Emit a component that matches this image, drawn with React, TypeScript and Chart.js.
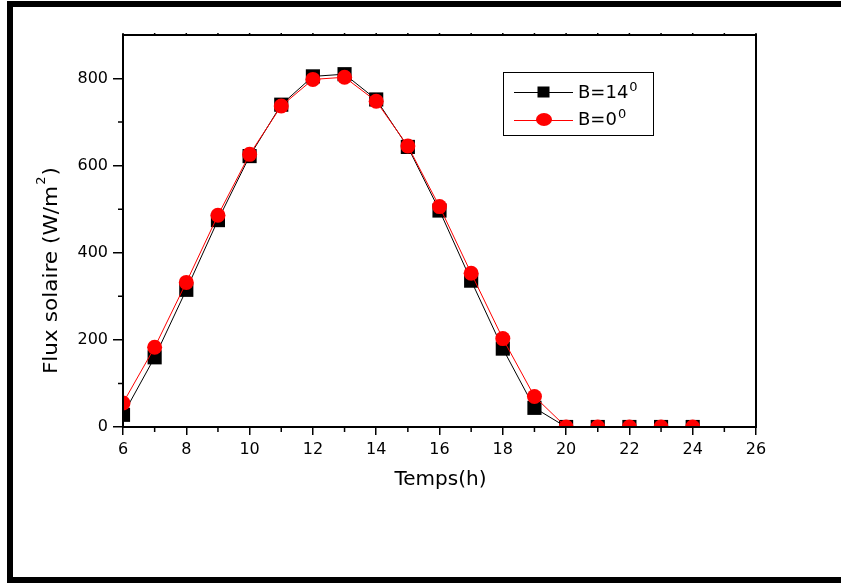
import React, { useEffect, useRef } from 'react';
import { Chart, registerables } from 'chart.js';

Chart.register(...registerables);

const hours = [6, 7, 8, 9, 10, 11, 12, 13, 14, 15, 16, 17, 18, 19, 20, 21, 22, 23, 24];
const fluxB14 = [28, 160, 315, 475, 622, 740, 805, 810, 752, 643, 497, 336, 180, 44, 0, 0, 0, 0, 0];
const fluxB0 = [55, 183, 332, 486, 626, 737, 798, 803, 748, 645, 506, 353, 203, 70, 0, 0, 0, 0, 0];

const xMajorTicks = [6, 8, 10, 12, 14, 16, 18, 20, 22, 24, 26];
const xMinorTicks = [7, 9, 11, 13, 15, 17, 19, 21, 23, 25];
const yMajorTicks = [0, 200, 400, 600, 800];
const yMinorTicks = [100, 300, 500, 700];

const seriesNames = ['B=14', 'B=0'];
const seriesSup = ['0', '0'];
const xTitle = 'Temps(h)';
const yTitleMain = 'Flux solaire (W/m';
const yTitleSup = '2';
const yTitleEnd = ')';

const FONT = "'DejaVu Sans', sans-serif";

function drawSupText(ctx: CanvasRenderingContext2D, main: string, sup: string, x: number, y: number, size: number, supSize: number, raise: number, tail = '') {
  ctx.font = `${size}px ${FONT}`;
  ctx.fillText(main, x, y);
  const w = ctx.measureText(main).width;
  ctx.font = `${supSize}px ${FONT}`;
  ctx.fillText(sup, x + w + 1, y - raise);
  const sw = ctx.measureText(sup).width;
  if (tail) {
    ctx.font = `${size}px ${FONT}`;
    ctx.fillText(tail, x + w + sw + 2, y);
  }
}

const decorPlugin = {
  id: 'decor',
  beforeDraw(chart: any) {
    const ctx = chart.ctx as CanvasRenderingContext2D;
    ctx.save();
    ctx.fillStyle = '#fff';
    ctx.fillRect(0, 0, chart.width, chart.height);
    ctx.fillStyle = '#000';
    ctx.fillRect(7, 1, chart.width - 7, 6);
    ctx.fillRect(7, 1, 6, chart.height - 1);
    ctx.fillRect(7, 577, chart.width - 7, 6);
    ctx.restore();
  },
  afterDatasetsDraw(chart: any) {
    const ctx = chart.ctx as CanvasRenderingContext2D;
    const a = chart.chartArea;
    const xs = chart.scales.x;
    const ys = chart.scales.y;
    ctx.save();
    ctx.strokeStyle = '#000';
    ctx.lineWidth = 2;
    ctx.strokeRect(a.left, a.top, a.right - a.left, a.bottom - a.top);

    ctx.lineWidth = 1.5;
    ctx.beginPath();
    xMinorTicks.forEach((v) => {
      const px = xs.getPixelForValue(v);
      ctx.moveTo(px, a.bottom);
      ctx.lineTo(px, a.bottom + 5);
    });
    yMinorTicks.forEach((v) => {
      const py = ys.getPixelForValue(v);
      ctx.moveTo(a.left - 5, py);
      ctx.lineTo(a.left, py);
    });
    [...xMajorTicks, ...xMinorTicks].forEach((v) => {
      const px = xs.getPixelForValue(v);
      ctx.moveTo(px, a.top);
      ctx.lineTo(px, a.top - 2);
    });
    ctx.stroke();

    // legend
    ctx.lineWidth = 1;
    ctx.strokeStyle = '#000';
    ctx.strokeRect(503.5, 72.5, 150, 63);
    ctx.beginPath();
    ctx.moveTo(514, 92.5);
    ctx.lineTo(573, 92.5);
    ctx.stroke();
    ctx.fillStyle = '#000';
    ctx.fillRect(537.5, 86.5, 12, 11);
    ctx.strokeStyle = '#ff0000';
    ctx.beginPath();
    ctx.moveTo(514, 120.5);
    ctx.lineTo(573, 120.5);
    ctx.stroke();
    ctx.fillStyle = '#ff0000';
    ctx.beginPath();
    ctx.ellipse(544, 119.5, 8, 6.5, 0, 0, Math.PI * 2);
    ctx.fill();

    ctx.fillStyle = '#000';
    ctx.textBaseline = 'alphabetic';
    ctx.textAlign = 'left';
    drawSupText(ctx, seriesNames[0], seriesSup[0], 578, 98, 18, 13, 7);
    drawSupText(ctx, seriesNames[1], seriesSup[1], 578, 125, 18, 13, 7);

    // x title
    ctx.font = `20px ${FONT}`;
    ctx.textAlign = 'center';
    ctx.fillText(xTitle, 440.5, 485);

    // y title
    ctx.save();
    ctx.translate(57, 373);
    ctx.rotate(-Math.PI / 2);
    ctx.scale(1.08, 1);
    ctx.textAlign = 'left';
    drawSupText(ctx, yTitleMain, yTitleSup, -1, 0, 20, 12, 12, yTitleEnd);
    ctx.restore();

    ctx.restore();
  },
};

export default function App() {
  const ref = useRef<HTMLCanvasElement | null>(null);
  useEffect(() => {
    if (!ref.current) return;
    const chart = new Chart(ref.current, {
      type: 'line',
      data: {
        datasets: [
          {
            label: 'B=14°',
            data: hours.map((h, i) => ({ x: h, y: fluxB14[i] })),
            borderColor: '#000000',
            backgroundColor: '#000000',
            borderWidth: 1,
            pointStyle: 'rect',
            pointRadius: 10,
            pointBorderWidth: 0,
            pointBackgroundColor: '#000000',
            order: 1,
          },
          {
            label: 'B=0°',
            data: hours.map((h, i) => ({ x: h, y: fluxB0[i] })),
            borderColor: '#ff0000',
            backgroundColor: '#ff0000',
            borderWidth: 1,
            pointStyle: 'circle',
            pointRadius: 7.5,
            pointBorderWidth: 0,
            pointBackgroundColor: '#ff0000',
            order: 0,
          },
        ],
      },
      options: {
        animation: false,
        responsive: false,
        devicePixelRatio: 1,
        events: [],
        layout: { padding: { top: 35, left: 0, right: 85, bottom: 0 } },
        plugins: { legend: { display: false }, tooltip: { enabled: false } },
        scales: {
          x: {
            type: 'linear',
            min: 6,
            max: 26,
            afterBuildTicks: (s: any) => {
              s.ticks = xMajorTicks.map((v) => ({ value: v }));
            },
            afterFit: (s: any) => {
              s.height = 156;
            },
            ticks: {
              autoSkip: false,
              maxRotation: 0,
              padding: 5,
              color: '#000',
              font: { family: FONT, size: 16 },
              callback: (v: any) => String(v),
            },
            grid: { display: true, drawOnChartArea: false, drawTicks: true, tickLength: 8, color: '#000', lineWidth: 1.5 },
            border: { display: false },
          },
          y: {
            type: 'linear',
            min: 0,
            max: 900,
            afterBuildTicks: (s: any) => {
              s.ticks = yMajorTicks.map((v) => ({ value: v }));
            },
            afterFit: (s: any) => {
              s.width = 123;
            },
            ticks: {
              padding: 5,
              color: '#000',
              font: { family: FONT, size: 16 },
              callback: (v: any) => String(v),
            },
            grid: { display: true, drawOnChartArea: false, drawTicks: true, tickLength: 10, color: '#000', lineWidth: 1.5 },
            border: { display: false },
          },
        },
      },
      plugins: [decorPlugin],
    });
    return () => chart.destroy();
  }, []);
  return (
    <div style={{ position: 'absolute', left: 0, top: 0, width: 841, height: 583 }}>
      <canvas ref={ref} width={841} height={583} style={{ display: 'block' }} />
    </div>
  );
}
